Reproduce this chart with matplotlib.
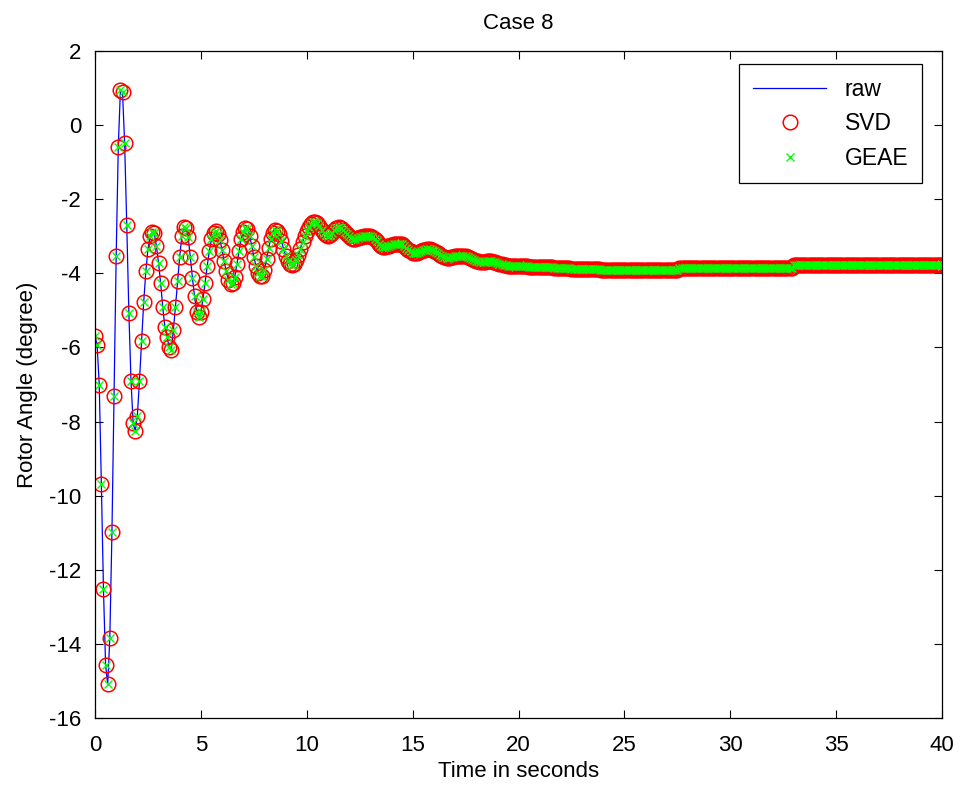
#! /usr/bin/env python
import matplotlib
matplotlib.use('Agg')
import matplotlib.pyplot as plt, numpy as np

"""
Rotor angle for Case 8: raw signal vs SVD and GEAE reconstructions
"""

plt.rcParams['font.family'] = ['Liberation Sans', 'DejaVu Sans']
plt.rcParams['axes.unicode_minus'] = False

dt = 0.1  # sampling step (s)

# rotor angle (degree), one row per second
angle = [
    -5.70, -5.93, -7.00, -9.68, -12.53, -14.57, -15.09, -13.83, -10.99, -7.32,
    -3.53, -0.58, 0.94, 0.89, -0.49, -2.70, -5.07, -6.90, -8.03, -8.26,
    -7.84, -6.90, -5.83, -4.78, -3.95, -3.35, -2.99, -2.88, -2.92, -3.26,
    -3.71, -4.27, -4.92, -5.45, -5.72, -5.98, -6.07, -5.53, -4.90, -4.22,
    -3.55, -3.00, -2.74, -2.78, -3.02, -3.55, -4.12, -4.62, -5.03, -5.18,
    -5.05, -4.70, -4.25, -3.80, -3.40, -3.08, -2.92, -2.87, -2.95, -3.10,
    -3.37, -3.68, -3.95, -4.18, -4.30, -4.25, -4.09, -3.75, -3.40, -3.08,
    -2.88, -2.78, -2.80, -2.98, -3.25, -3.55, -3.80, -3.98, -4.07, -4.06,
    -3.90, -3.62, -3.32, -3.07, -2.90, -2.83, -2.85, -2.95, -3.12, -3.33,
    -3.52, -3.66, -3.75, -3.78, -3.75, -3.65, -3.50, -3.33, -3.16, -3.00,
    -2.86, -2.75, -2.67, -2.62, -2.61, -2.64, -2.72, -2.83, -2.90, -2.96,
    -2.98, -2.96, -2.90, -2.83, -2.78, -2.76, -2.77, -2.82, -2.88, -2.95,
    -3.00, -3.04, -3.06, -3.06, -3.05, -3.03, -3.01, -3.00, -3.00, -3.00,
    -3.00, -3.03, -3.08, -3.14, -3.20, -3.25, -3.28, -3.28, -3.27, -3.25,
    -3.23, -3.21, -3.20, -3.20, -3.20, -3.22, -3.26, -3.31, -3.36, -3.41,
    -3.44, -3.45, -3.44, -3.42, -3.39, -3.37, -3.36, -3.35, -3.35, -3.36,
    -3.39, -3.42, -3.46, -3.50, -3.53, -3.56, -3.58, -3.58, -3.57, -3.56,
    -3.54, -3.53, -3.52, -3.52, -3.52, -3.53, -3.55, -3.58, -3.61, -3.64,
    -3.66, -3.68, -3.69, -3.69, -3.69, -3.68, -3.68, -3.68, -3.69, -3.70,
    -3.72, -3.74, -3.76, -3.77, -3.78, -3.79, -3.79, -3.80, -3.80, -3.80,
    -3.80, -3.80, -3.81, -3.81, -3.81, -3.82, -3.82, -3.82, -3.82, -3.83,
    -3.83, -3.83, -3.83, -3.84, -3.84, -3.84, -3.84, -3.85, -3.85, -3.85,
    -3.85, -3.86, -3.86, -3.86, -3.86, -3.87, -3.87, -3.87, -3.87, -3.88,
    -3.88, -3.88, -3.88, -3.88, -3.89, -3.89, -3.89, -3.89, -3.89, -3.90,
    -3.90, -3.90, -3.90, -3.90, -3.90, -3.90, -3.90, -3.90, -3.90, -3.90,
    -3.90, -3.90, -3.90, -3.90, -3.90, -3.90, -3.90, -3.90, -3.90, -3.90,
    -3.90, -3.90, -3.90, -3.90, -3.90, -3.90, -3.90, -3.90, -3.90, -3.90,
    -3.90, -3.90, -3.90, -3.90, -3.90, -3.90, -3.86, -3.86, -3.86, -3.86,
    -3.86, -3.86, -3.86, -3.86, -3.86, -3.86, -3.86, -3.86, -3.86, -3.86,
    -3.86, -3.86, -3.86, -3.86, -3.86, -3.86, -3.86, -3.86, -3.86, -3.86,
    -3.86, -3.86, -3.86, -3.86, -3.86, -3.86, -3.86, -3.86, -3.86, -3.86,
    -3.86, -3.86, -3.86, -3.86, -3.86, -3.86, -3.86, -3.86, -3.86, -3.86,
    -3.86, -3.86, -3.86, -3.86, -3.86, -3.86, -3.86, -3.86, -3.86, -3.86,
    -3.78, -3.78, -3.78, -3.78, -3.78, -3.78, -3.78, -3.78, -3.78, -3.78,
    -3.78, -3.78, -3.78, -3.78, -3.78, -3.78, -3.78, -3.78, -3.78, -3.78,
    -3.78, -3.78, -3.78, -3.78, -3.78, -3.78, -3.78, -3.78, -3.78, -3.78,
    -3.78, -3.78, -3.78, -3.78, -3.78, -3.78, -3.78, -3.78, -3.78, -3.78,
    -3.78, -3.78, -3.78, -3.78, -3.78, -3.78, -3.78, -3.78, -3.78, -3.78,
    -3.78, -3.78, -3.78, -3.78, -3.78, -3.78, -3.78, -3.78, -3.78, -3.78,
    -3.78, -3.78, -3.78, -3.78, -3.78, -3.78, -3.78, -3.78, -3.78, -3.78,
    -3.78,
]

time = np.arange(len(angle)) * dt
raw = np.array(angle)
svd = raw.copy()    # reconstructions overlap the raw samples in the figure
geae = raw.copy()

xticks = [0, 5, 10, 15, 20, 25, 30, 35, 40]
yticks = [-16, -14, -12, -10, -8, -6, -4, -2, 0, 2]

fig = plt.figure(figsize=(9.62, 7.88), dpi=100, facecolor='w')
ax = fig.add_axes([95/962., 1 - 718/788., 847/962., 667/788.])

ax.plot(time, raw, c='b', lw=0.9, label='raw')
ax.plot(time, svd, ls='', marker='o', ms=10.5, mfc='none', mec='r', mew=1.1, label='SVD')
ax.plot(time, geae, ls='', marker='x', ms=6, mec='#00ff00', mew=1.0, label='GEAE')

ax.set_xlim([0, 40])
ax.set_ylim([-16, 2])
ax.set_xticks(xticks)
ax.set_yticks(yticks)
ax.tick_params(direction='in', top=True, right=True, length=6, labelsize=16)
ax.tick_params(axis='x', pad=12)
ax.tick_params(axis='y', pad=10)
for s in ax.spines.values():
    s.set_linewidth(0.9)

ax.set_title('Case 8', fontsize=16, pad=16)
ax.set_xlabel('Time in seconds', fontsize=16, labelpad=4)
ax.set_ylabel('Rotor Angle (degree)', fontsize=16, labelpad=8)

leg = ax.legend(loc='upper right', bbox_to_anchor=(827/847., 654/667.), borderaxespad=0,
                fontsize=16.5, fancybox=False, edgecolor='k', framealpha=1,
                handlelength=3.2, numpoints=1, borderpad=0.6, labelspacing=0.5)
leg.get_frame().set_linewidth(0.9)

plt.savefig('out.png', dpi=100)
